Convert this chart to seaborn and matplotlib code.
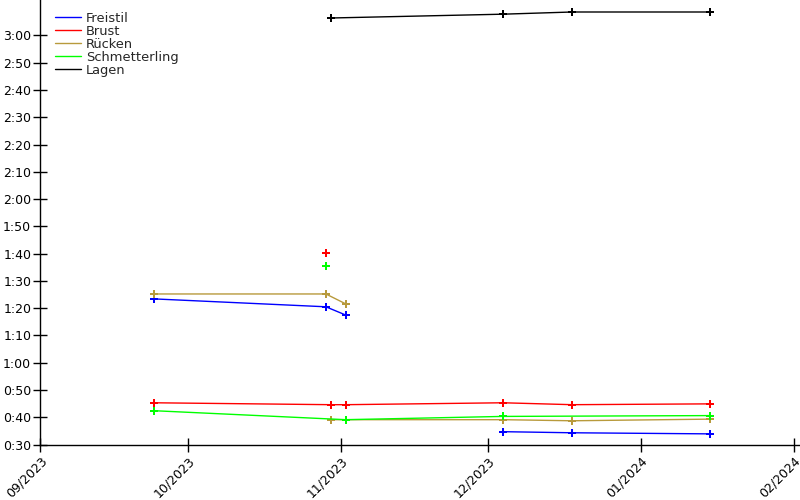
import pandas as pd
import seaborn as sns
import matplotlib
matplotlib.use("Agg")
import matplotlib.pyplot as plt

strokes = ["Freistil", "Brust", "Rücken", "Schmetterling", "Lagen"]
colors = ["#0000ff", "#ff0000", "#b89a3c", "#00ff00", "#000000"]

# times in seconds, one list per stroke and distance
free_50_dates = ["2023-12-04", "2023-12-18", "2024-01-15"]
free_50_times = [34.7, 34.3, 33.9]
free_100_dates = ["2023-09-24", "2023-10-29", "2023-11-02"]
free_100_times = [83.4, 80.5, 77.5]

breast_50_dates = ["2023-09-24", "2023-10-30", "2023-11-02", "2023-12-04", "2023-12-18", "2024-01-15"]
breast_50_times = [45.3, 44.6, 44.6, 45.3, 44.6, 44.9]
breast_100_dates = ["2023-10-29"]
breast_100_times = [100.3]

back_50_dates = ["2023-10-30", "2023-12-04", "2023-12-18", "2024-01-15"]
back_50_times = [39.1, 39.1, 38.7, 39.3]
back_100_dates = ["2023-09-24", "2023-10-29", "2023-11-02"]
back_100_times = [85.2, 85.2, 81.6]

fly_50_dates = ["2023-09-24", "2023-11-02", "2023-12-04", "2024-01-15"]
fly_50_times = [42.4, 39.1, 40.3, 40.6]
fly_100_dates = ["2023-10-29"]
fly_100_times = [95.5]

im_200_dates = ["2023-10-30", "2023-12-04", "2023-12-18", "2024-01-15"]
im_200_times = [186.4, 187.8, 188.6, 188.6]

month_ticks = ["2023-09-01", "2023-10-01", "2023-11-01", "2023-12-01", "2024-01-01", "2024-02-01"]
time_ticks = list(range(30, 181, 10))

series = [
    ("Freistil", "50", free_50_dates, free_50_times),
    ("Freistil", "100", free_100_dates, free_100_times),
    ("Brust", "50", breast_50_dates, breast_50_times),
    ("Brust", "100", breast_100_dates, breast_100_times),
    ("Rücken", "50", back_50_dates, back_50_times),
    ("Rücken", "100", back_100_dates, back_100_times),
    ("Schmetterling", "50", fly_50_dates, fly_50_times),
    ("Schmetterling", "100", fly_100_dates, fly_100_times),
    ("Lagen", "200", im_200_dates, im_200_times),
]

rows = []
for stroke, dist, dates, times in series:
    for d, t in zip(dates, times):
        rows.append({"Datum": pd.Timestamp(d), "Zeit": t, "Lage": stroke, "Strecke": dist})
df = pd.DataFrame(rows)

sns.set_style("ticks")
plt.rcParams["font.family"] = ["DejaVu Sans"]

fig = plt.figure(figsize=(8, 5), dpi=100)
ax = fig.add_axes([0.0504, 0.111, 0.9496, 0.889])

sns.lineplot(data=df, x="Datum", y="Zeit", hue="Lage", units="Strecke", estimator=None,
             hue_order=strokes, palette=colors, marker="P", markersize=6,
             markeredgewidth=0, linewidth=1, ax=ax)

ax.set_xlim(pd.Timestamp("2023-09-01"), pd.Timestamp("2023-09-01") + pd.Timedelta(days=154.3))
ax.set_ylim(30, 193)
ax.set_yticks(time_ticks)
ax.set_yticklabels([f"{t // 60}:{t % 60:02d}" for t in time_ticks])
xt = [pd.Timestamp(m) for m in month_ticks]
ax.set_xticks(xt)
ax.set_xticklabels([m.strftime("%m/%Y") for m in xt], rotation=45, ha="right",
                   va="top", rotation_mode="anchor")
ax.tick_params(direction="inout", length=10, width=1, labelsize=9, colors="black")
ax.tick_params(axis="x", pad=2)
ax.tick_params(axis="y", pad=1.5)

ax.set_xlabel("")
ax.set_ylabel("")
for s in ["top", "right"]:
    ax.spines[s].set_visible(False)
for s in ["left", "bottom"]:
    ax.spines[s].set_color("black")
    ax.spines[s].set_linewidth(1)

leg = ax.legend(loc="upper left", bbox_to_anchor=(0.012, 0.9854), frameon=False,
                fontsize=9.4, labelspacing=0.0, handletextpad=0.4, borderaxespad=0.0,
                handlelength=2.0)
for h in leg.get_lines():
    h.set_marker("")
    h.set_linewidth(1)

fig.savefig("out.png", dpi=100)
